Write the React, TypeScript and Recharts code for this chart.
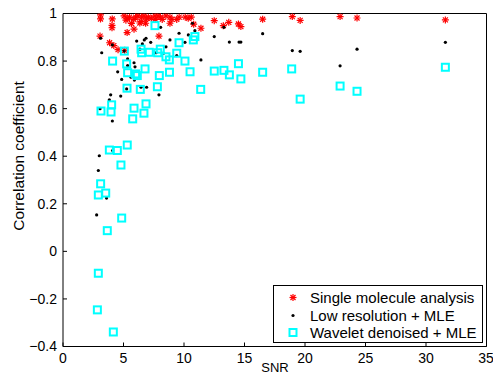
import React from "react";
import { ScatterChart, Scatter, XAxis, YAxis, Legend } from "recharts";

const singleMolecule: [number, number][] = [
  [3.1, 0.994], [3.1, 0.977], [3.06, 0.905], [4.07, 0.977], [4.05, 0.95], [4.05, 0.94],
  [3.85, 0.877], [4.2, 0.865], [4.55, 0.848], [5.05, 0.99], [5.1, 0.845], [5.3, 0.98],
  [5.3, 0.92], [5.2, 0.972], [5.5, 0.985], [5.65, 0.958], [5.85, 0.975], [5.87, 0.934],
  [6.0, 0.985], [6.2, 0.99], [6.35, 0.96], [6.5, 0.985], [6.45, 0.966], [6.7, 0.99],
  [6.83, 0.959], [6.9, 0.98], [7.05, 0.985], [7.3, 0.98], [7.6, 0.99], [7.65, 0.975],
  [7.85, 0.99], [7.93, 0.905], [8.05, 0.985], [8.2, 0.975], [8.5, 0.99], [8.84, 0.985],
  [8.84, 0.959], [9.0, 0.975], [9.4, 0.975], [9.6, 0.985], [10.1, 0.985], [10.35, 0.98],
  [10.6, 0.985], [10.8, 0.955], [11.4, 0.938], [12.5, 0.97], [13.25, 0.949], [13.7, 0.963],
  [14.5, 0.956], [14.7, 0.945], [16.5, 0.976], [18.95, 0.987], [19.6, 0.971], [22.9, 0.987],
  [24.3, 0.981], [31.6, 0.973],
];

const lowResolution: [number, number][] = [
  [3.11, 0.896], [3.2, 0.835], [4.08, 0.868], [4.52, 0.755], [4.85, 0.723], [4.77, 0.653],
  [3.94, 0.658], [3.83, 0.637], [4.08, 0.548], [3.06, 0.6], [3.0, 0.402], [2.92, 0.34],
  [3.6, 0.224], [2.78, 0.153], [4.1, 0.424], [5.34, 0.809], [5.34, 0.781], [5.87, 0.793],
  [5.95, 0.776], [5.26, 0.683], [5.62, 0.732], [5.9, 0.72], [6.09, 0.884], [6.36, 0.85],
  [6.56, 0.872], [6.72, 0.889], [6.86, 0.896], [7.25, 0.879], [6.45, 0.69], [6.91, 0.69],
  [7.93, 0.658], [7.69, 0.835], [8.07, 0.942], [8.51, 0.86], [8.84, 0.889], [9.59, 0.917],
  [10.08, 0.879], [10.36, 0.91], [10.7, 0.959], [10.9, 0.928], [11.4, 0.805], [9.4, 0.823],
  [8.3, 0.833], [12.5, 0.903], [13.3, 0.942], [13.75, 0.88], [14.55, 0.88], [14.7, 0.88],
  [16.5, 0.915], [18.95, 0.844], [19.6, 0.841], [22.9, 0.78], [24.3, 0.85], [31.6, 0.879],
  [5.05, 0.842],
];

const waveletDenoised: [number, number][] = [
  [7.6, 0.949], [5.07, 0.842], [6.45, 0.85], [6.5, 0.835], [7.13, 0.837], [7.83, 0.835],
  [8.04, 0.85], [8.51, 0.818], [8.79, 0.805], [9.4, 0.833], [9.59, 0.877], [10.08, 0.8],
  [10.5, 0.755], [10.77, 0.889], [10.9, 0.903], [11.38, 0.681], [4.1, 0.8], [5.26, 0.788],
  [5.34, 0.751], [6.0, 0.746], [6.14, 0.739], [6.78, 0.767], [7.96, 0.739], [8.8, 0.753],
  [5.29, 0.686], [6.39, 0.681], [7.8, 0.692], [3.14, 0.59], [4.02, 0.616], [3.97, 0.586],
  [5.87, 0.602], [5.76, 0.557], [6.86, 0.62], [6.69, 0.581], [3.83, 0.426], [4.49, 0.424],
  [5.31, 0.447], [4.79, 0.363], [3.11, 0.284], [2.92, 0.237], [3.53, 0.245], [4.85, 0.14],
  [3.66, 0.087], [2.92, -0.092], [2.84, -0.246], [4.16, -0.339], [12.5, 0.758], [13.3, 0.761],
  [13.75, 0.742], [14.5, 0.789], [14.7, 0.725], [16.5, 0.753], [18.9, 0.767], [19.6, 0.64],
  [22.9, 0.695], [24.3, 0.673], [31.6, 0.774],
];

const xTicks = [0, 5, 10, 15, 20, 25, 30, 35];
const yTicks = [-0.4, -0.2, 0, 0.2, 0.4, 0.6, 0.8, 1];
const seriesNames = ["Single molecule analysis", "Low resolution + MLE", "Wavelet denoised + MLE"];
const xLabel = "SNR";
const yLabel = "Correlation coefficient";

const FONT = "'Liberation Sans', Arial, Helvetica, sans-serif";

const toPoints = (arr: [number, number][]) => arr.map(([x, y]) => ({ x, y }));

const fmtY = (v: number) => {
  if (v === 0) return "0";
  if (v === 1) return "1";
  const s = Math.abs(v).toFixed(1);
  return v < 0 ? "\u2212" + s : s;
};

const Star = (props: any) => {
  const { cx, cy } = props;
  if (cx == null || cy == null) return null;
  const r = 3.5;
  const d = 2.5;
  return (
    <g stroke="#ff0000" strokeWidth={1.2}>
      <line x1={cx - r} y1={cy} x2={cx + r} y2={cy} />
      <line x1={cx} y1={cy - r} x2={cx} y2={cy + r} />
      <line x1={cx - d} y1={cy - d} x2={cx + d} y2={cy + d} />
      <line x1={cx - d} y1={cy + d} x2={cx + d} y2={cy - d} />
    </g>
  );
};

const Dot = (props: any) => {
  const { cx, cy } = props;
  if (cx == null || cy == null) return null;
  return <circle cx={cx} cy={cy} r={1.6} fill="#000" />;
};

const Square = (props: any) => {
  const { cx, cy } = props;
  if (cx == null || cy == null) return null;
  return (
    <rect x={cx - 3.5} y={cy - 3.5} width={7} height={7} fill="none" stroke="#00ffff" strokeWidth={2} />
  );
};

const LegendBox = () => (
  <div
    style={{
      boxSizing: "border-box",
      width: 210,
      height: 58,
      border: "1px solid #000",
      background: "#fff",
      fontFamily: FONT,
      fontSize: 15,
      color: "#000",
      position: "relative",
    }}
  >
    {seriesNames.map((name, i) => (
      <div
        key={name}
        style={{ position: "absolute", left: 0, top: 3 + i * 17.5, height: 17, width: 208, display: "flex", alignItems: "center" }}
      >
        <svg width={36} height={17} style={{ display: "block" }}>
          {i === 0 && <Star cx={19} cy={8.5} />}
          {i === 1 && <Dot cx={19} cy={8.5} />}
          {i === 2 && <Square cx={19} cy={8.5} />}
        </svg>
        <span style={{ whiteSpace: "nowrap", lineHeight: "17px" }}>{name}</span>
      </div>
    ))}
  </div>
);

export default function App() {
  return (
    <div style={{ position: "absolute", left: 0, top: 0, width: 493, height: 378, background: "#fff" }}>
      <ScatterChart width={493} height={378} margin={{ top: 12.5, right: 5.5, bottom: 0, left: 0 }}>
        <XAxis
          xAxisId="b"
          dataKey="x"
          type="number"
          domain={[0, 35]}
          ticks={xTicks}
          allowDataOverflow
          orientation="bottom"
          height={31.5}
          tickSize={-4}
          tickMargin={10.5}
          stroke="#000"
          tick={{ fill: "#000", fontSize: 14, fontFamily: FONT }}
          label={(p: any) => (
            <text x={275} y={372} textAnchor="middle" fontSize={13} fontFamily={FONT} fill="#000">
              {xLabel}
            </text>
          )}
        />
        <XAxis
          xAxisId="t"
          dataKey="x"
          type="number"
          domain={[0, 35]}
          ticks={xTicks}
          allowDataOverflow
          orientation="top"
          height={1}
          tickSize={-4}
          tick={false}
          stroke="#000"
        />
        <YAxis
          yAxisId="l"
          dataKey="y"
          type="number"
          domain={[-0.4, 1]}
          ticks={yTicks}
          allowDataOverflow
          orientation="left"
          width={63}
          tickSize={-4}
          tickMargin={10}
          tickFormatter={fmtY}
          stroke="#000"
          tick={{ fill: "#000", fontSize: 14, fontFamily: FONT }}
          label={(p: any) => (
            <text
              x={18}
              y={156}
              transform="rotate(-90 18 156)"
              textAnchor="middle"
              dominantBaseline="central"
              fontSize={15.5}
              fontFamily={FONT}
              fill="#000"
            >
              {yLabel}
            </text>
          )}
        />
        <YAxis
          yAxisId="r"
          dataKey="y"
          type="number"
          domain={[-0.4, 1]}
          ticks={yTicks}
          allowDataOverflow
          orientation="right"
          width={1}
          tickSize={-4}
          tick={false}
          stroke="#000"
        />
        <Legend
          verticalAlign="middle"
          align="center"
          layout="vertical"
          content={() => <LegendBox />}
          wrapperStyle={{ position: "absolute", left: 273, top: 285, width: 210, height: 58, right: "auto", bottom: "auto" }}
        />
        <Scatter
          name={seriesNames[0]}
          data={toPoints(singleMolecule)}
          xAxisId="b"
          yAxisId="l"
          shape={Star}
          isAnimationActive={false}
        />
        <Scatter
          name={seriesNames[1]}
          data={toPoints(lowResolution)}
          xAxisId="b"
          yAxisId="l"
          shape={Dot}
          isAnimationActive={false}
        />
        <Scatter
          name={seriesNames[2]}
          data={toPoints(waveletDenoised)}
          xAxisId="t"
          yAxisId="r"
          shape={Square}
          isAnimationActive={false}
        />
      </ScatterChart>
    </div>
  );
}
